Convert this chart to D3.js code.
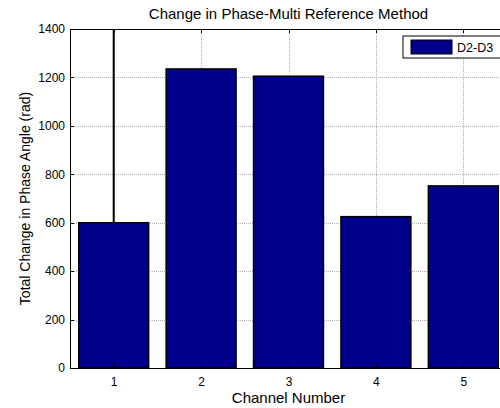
<!DOCTYPE html>
<html>
<head>
<meta charset="utf-8">
<script src="https://d3js.org/d3.v7.min.js"></script>
<style>
    body { margin: 0; background: #fff; }
    svg { display: block; font-family: "Liberation Sans", Arial, sans-serif; }
    .grid line { stroke: #b0b0b0; stroke-dasharray: 1,1; shape-rendering: crispEdges; }
    .grid path { stroke-width: 0; }
    .axis path, .axis line { stroke: #000; shape-rendering: crispEdges; }
    .axis text { font-size: 12px; fill: #000; }
</style>
</head>
<body>
<svg width="500" height="408"></svg>
<script>
    // data
    const channels = [1, 2, 3, 4, 5];
    const phaseChange = [600, 1235, 1205, 625, 752];
    const errUpper = [900, 0, 0, 0, 0];   // only channel 1 shows an error line (runs off the top)
    const yTicks = [0, 200, 400, 600, 800, 1000, 1200, 1400];
    const seriesName = "D2-D3";

    const margin = {top: 29, left: 70},
          width = 437,
          height = 339;

    const x = d3.scaleLinear().domain([0.5, 5.5]).range([0, width]);
    const y = d3.scaleLinear().domain([0, 1400]).range([height, 0]);
    const barW = x(1.4) - x(0.6);

    const svg = d3.select("svg");
    const g = svg.append("g")
        .attr("transform", `translate(${margin.left},${margin.top})`);

    // grid
    g.append("g")
        .attr("class", "grid")
        .attr("transform", `translate(0,${height})`)
        .call(d3.axisBottom(x).tickValues(channels).tickSize(-height).tickFormat(""));
    g.append("g")
        .attr("class", "grid")
        .call(d3.axisLeft(y).tickValues(yTicks).tickSize(-width).tickFormat(""));

    // bars
    g.selectAll(".bar")
        .data(channels)
        .enter().append("rect")
        .attr("class", "bar")
        .attr("x", d => x(d) - barW / 2)
        .attr("y", (d, i) => y(phaseChange[i]))
        .attr("width", barW)
        .attr("height", (d, i) => height - y(phaseChange[i]))
        .style("fill", "#00008c")
        .style("stroke", "#000")
        .style("stroke-width", 1.5);

    // error lines (clipped at the top of the axes)
    g.selectAll(".err")
        .data(channels.filter((d, i) => errUpper[i] > 0))
        .enter().append("line")
        .attr("x1", d => x(d))
        .attr("x2", d => x(d))
        .attr("y1", d => y(phaseChange[d - 1]))
        .attr("y2", d => Math.max(0, y(phaseChange[d - 1] + errUpper[d - 1])))
        .style("stroke", "#000")
        .style("stroke-width", 2);

    // axes with inward ticks, box all round
    g.append("g")
        .attr("class", "axis")
        .attr("transform", `translate(0,${height})`)
        .call(d3.axisBottom(x).tickValues(channels).tickFormat(d3.format("d"))
            .tickSize(-4).tickPadding(9).tickSizeOuter(0));
    g.append("g")
        .attr("class", "axis")
        .call(d3.axisLeft(y).tickValues(yTicks).tickFormat(d3.format("d"))
            .tickSize(-4).tickPadding(5).tickSizeOuter(0));
    g.append("g")
        .attr("class", "axis")
        .call(d3.axisTop(x).tickValues(channels).tickSize(-4).tickFormat("").tickSizeOuter(0));
    g.append("g")
        .attr("class", "axis")
        .attr("transform", `translate(${width},0)`)
        .call(d3.axisRight(y).tickValues(yTicks).tickSize(-4).tickFormat("").tickSizeOuter(0));

    // titles
    svg.append("text")
        .attr("x", margin.left + width / 2)
        .attr("y", 19)
        .attr("text-anchor", "middle")
        .style("font-size", "15px")
        .text("Change in Phase-Multi Reference Method");

    svg.append("text")
        .attr("x", margin.left + width / 2)
        .attr("y", 403)
        .attr("text-anchor", "middle")
        .style("font-size", "15px")
        .text("Channel Number");

    svg.append("text")
        .attr("transform", `translate(30,${margin.top + height / 2}) rotate(-90)`)
        .attr("text-anchor", "middle")
        .style("font-size", "14px")
        .text("Total Change in Phase Angle (rad)");

    // legend
    const legend = g.append("g")
        .attr("transform", `translate(${333},${7})`);
    legend.append("rect")
        .attr("width", 100)
        .attr("height", 22)
        .style("fill", "#fff")
        .style("stroke", "#000")
        .style("stroke-width", 1);
    legend.append("rect")
        .attr("x", 8)
        .attr("y", 4)
        .attr("width", 41)
        .attr("height", 14)
        .style("fill", "#00008c")
        .style("stroke", "#000")
        .style("stroke-width", 1);
    legend.append("text")
        .attr("x", 54)
        .attr("y", 15.5)
        .style("font-size", "12.5px")
        .text(seriesName);
</script>
</body>
</html>
